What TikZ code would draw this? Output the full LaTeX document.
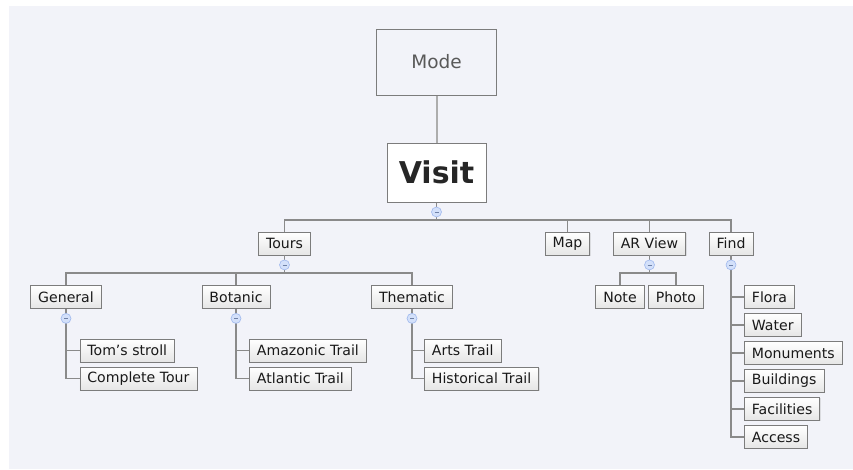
\documentclass[tikz,border=0pt]{standalone}
\usepackage{fontspec}
\setmainfont{DejaVu Sans}
\usetikzlibrary{shadows}
\definecolor{bgcol}{HTML}{F2F3F9}
\definecolor{linecol}{HTML}{8A8A8A}
\definecolor{boxline}{HTML}{7C7C7C}
\definecolor{foldfill}{HTML}{D3E0FA}
\definecolor{folddraw}{HTML}{9FB8EE}
\tikzset{
  item/.style={draw=boxline, line width=0.8pt, top color=white, bottom color=black!10,
    text=black!90, inner xsep=7.5pt, inner ysep=0pt, minimum height=23pt,
    font=\fontsize{14.1}{16}\selectfont,
    drop shadow={shadow xshift=0.8pt, shadow yshift=-0.8pt, opacity=0.2}},
  conn/.style={draw=linecol, line width=1.3pt},
  fold/.style={circle, draw=folddraw, fill=foldfill, minimum size=10pt, inner sep=0pt,
    line width=0.6pt,
    path picture={\draw[folddraw!70!black, line width=0.6pt]
      ([xshift=-2pt]path picture bounding box.center) --
      ([xshift=2pt]path picture bounding box.center);}}
}
\begin{document}
\begin{tikzpicture}[x=1pt, y=-1pt]
  \useasboundingbox (0,0) rectangle (853,469);
  \fill[bgcol] (9,6) rectangle (853,469);
  % top two levels
  \node[draw=boxline, line width=1pt, minimum width=120pt, minimum height=66pt,
    text=black!65, font=\fontsize{18.5}{22}\selectfont] (mode) at (436.5,62) {Mode};
  \node[draw=boxline, line width=1pt, fill=white, minimum width=99pt, minimum height=59pt,
    text=black!85, font=\bfseries\fontsize{30}{34}\selectfont] (visit) at (436.5,172.5) {Visit};
  \draw[black!32, line width=2pt] (mode) -- (visit);
  % second level
  \node[item] (tours) at (284.5,243.5) {Tours};
  \node[item] (map) at (567.5,243.5) {Map};
  \node[item] (arview) at (649.5,243.5) {AR View};
  \node[item] (find) at (731,243.5) {Find};
  \node[item] (general) at (66,297) {General};
  \node[item] (botanic) at (236,297) {Botanic};
  \node[item] (thematic) at (412,297) {Thematic};
  \node[item] (note) at (620,297) {Note};
  \node[item] (photo) at (676,297) {Photo};
  % leaves
  \node[item, anchor=west] (toms) at (79.5,350.5) {Tom's stroll};
  \node[item, anchor=west] (complete) at (79.5,378.5) {Complete Tour};
  \node[item, anchor=west] (amazonic) at (249,350.5) {Amazonic Trail};
  \node[item, anchor=west] (atlantic) at (249,378.5) {Atlantic Trail};
  \node[item, anchor=west] (arts) at (424,350.5) {Arts Trail};
  \node[item, anchor=west] (historical) at (424,378.5) {Historical Trail};
  \foreach \n/\t [count=\i] in {flora/Flora, water/Water, monuments/Monuments,
      buildings/Buildings, facilities/Facilities, access/Access}
    \node[item, anchor=west] (\n) at (744,269+28*\i) {\t};
  % connectors
  \coordinate (visitbar) at (0,220);
  \coordinate (subbar) at (0,273);
  \foreach \n in {tours,map,arview,find}
    \draw[conn] (visit.south) -- (visit.south |- visitbar) -| (\n.north);
  \foreach \n in {general,botanic,thematic}
    \draw[conn] (tours.south) -- (tours.south |- subbar) -| (\n.north);
  \foreach \n in {note,photo}
    \draw[conn] (arview.south) -- (arview.south |- subbar) -| (\n.north);
  \foreach \p/\c in {general/toms, general/complete, botanic/amazonic, botanic/atlantic,
      thematic/arts, thematic/historical}
    \draw[conn] (\p.south) |- (\c.west);
  \foreach \n in {flora,water,monuments,buildings,facilities,access}
    \draw[conn] (find.south) |- (\n.west);
  % fold markers
  \foreach \n in {visit,tours,general,botanic,thematic,arview,find}
    \node[fold] (\n fold) at ([yshift=-9.5pt]\n.south) {};
\end{tikzpicture}
\end{document}
